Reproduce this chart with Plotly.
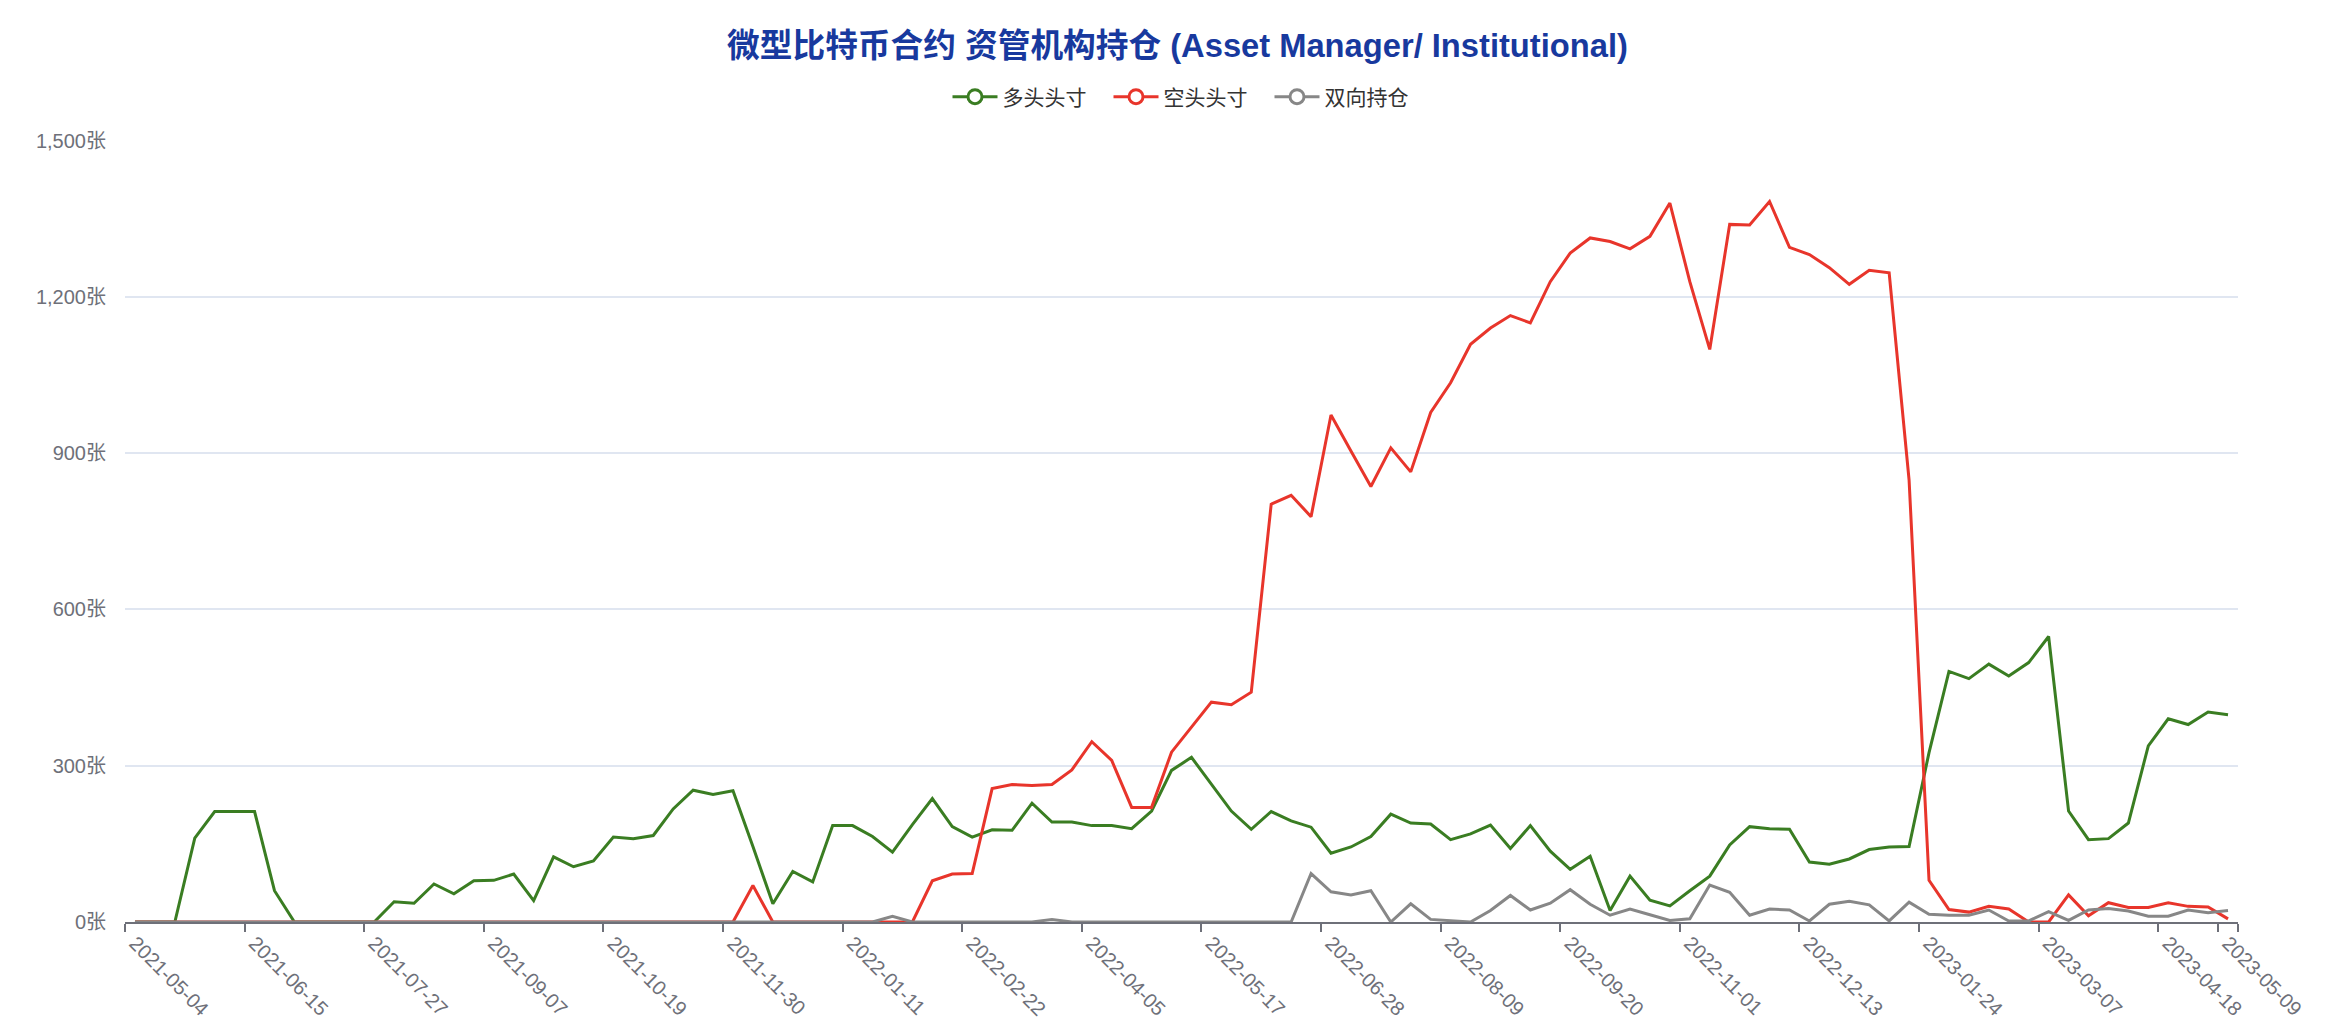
import pandas as pd
import plotly.graph_objects as go

dates = [d.strftime("%Y-%m-%d") for d in pd.date_range("2021-05-04", periods=106, freq="7D")]

long_pos = [0, 0, 0, 161, 212, 212, 212, 60, 0, 0,
            0, 0, 0, 39, 36, 73, 54, 79, 80, 92,
            41, 125, 106, 117, 163, 160, 166, 217, 253, 245,
            252, 145, 35, 97, 77, 185, 185, 164, 134, 187,
            237, 183, 163, 177, 176, 228, 192, 192, 185, 185,
            179, 213, 291, 316, 264, 213, 178, 212, 194, 182,
            132, 144, 164, 207, 190, 188, 158, 169, 186, 141,
            185, 136, 101, 126, 22, 88, 42, 31, 60, 88,
            148, 183, 179, 178, 115, 111, 121, 139, 144, 145,
            325, 481, 467, 495, 472, 498, 548, 213, 158, 160,
            190, 338, 390, 379, 403, 398]

short_pos = [0, 0, 0, 0, 0, 0, 0, 0, 0, 0,
             0, 0, 0, 0, 0, 0, 0, 0, 0, 0,
             0, 0, 0, 0, 0, 0, 0, 0, 0, 0,
             0, 70, 0, 0, 0, 0, 0, 0, 0, 0,
             79, 92, 93, 256, 264, 262, 264, 292, 346, 310,
             220, 220, 326, 374, 422, 417, 441, 802, 819, 778,
             973, 904, 836, 910, 864, 978, 1035, 1109, 1140, 1164,
             1150, 1229, 1284, 1313, 1306, 1292, 1316, 1380, 1229, 1099,
             1339, 1338, 1383, 1295, 1281, 1256, 1224, 1251, 1246, 848,
             80, 24, 19, 30, 25, 0, 0, 52, 12, 37,
             28, 28, 37, 30, 29, 6]

spread_pos = [0, 0, 0, 0, 0, 0, 0, 0, 0, 0,
              0, 0, 0, 0, 0, 0, 0, 0, 0, 0,
              0, 0, 0, 0, 0, 0, 0, 0, 0, 0,
              0, 0, 0, 0, 0, 0, 0, 0, 11, 0,
              0, 0, 0, 0, 0, 0, 5, 0, 0, 0,
              0, 0, 0, 0, 0, 0, 0, 0, 0, 93,
              58, 52, 60, 0, 35, 5, 3, 0, 22, 51,
              23, 36, 62, 34, 13, 25, 14, 3, 6, 71,
              57, 13, 25, 23, 2, 34, 40, 33, 2, 38,
              15, 13, 13, 23, 2, 2, 20, 3, 23, 26,
              21, 11, 11, 23, 18, 22]

tick_labels = ["2021-05-04", "2021-06-15", "2021-07-27", "2021-09-07", "2021-10-19",
               "2021-11-30", "2022-01-11", "2022-02-22", "2022-04-05", "2022-05-17",
               "2022-06-28", "2022-08-09", "2022-09-20", "2022-11-01", "2022-12-13",
               "2023-01-24", "2023-03-07", "2023-04-18", "2023-05-09"]

series_names = ["多头头寸", "空头头寸", "双向持仓"]
series_colors = ["#3a7d22", "#e8352b", "#878787"]
series_values = [long_pos, short_pos, spread_pos]

FONT = "Liberation Sans, Helvetica, Arial, Noto Sans CJK SC, sans-serif"
W, H = 2337, 1027  # page body has an 8px margin

fig = go.Figure()
for name, color, vals in zip(series_names, series_colors, series_values):
    fig.add_trace(go.Scatter(
        x=dates, y=vals, name=name, mode="lines",
        line=dict(color=color, width=3), showlegend=False,
        hovertemplate="%{x}<br>" + name + ": %{y}张<extra></extra>",
    ))
for name, color in zip(series_names, series_colors):
    fig.add_trace(go.Scatter(
        x=[None], y=[None], name=name, mode="lines+markers",
        line=dict(color=color, width=3),
        marker=dict(symbol="circle", size=14, color="white",
                    line=dict(color=color, width=3)),
        showlegend=True,
    ))

fig.update_layout(
    width=W, height=H,
    paper_bgcolor="white", plot_bgcolor="white",
    margin=dict(l=117, r=107, t=122, b=113),
    font=dict(family=FONT, color="#6e7079", size=20),
    title=dict(
        text="微型比特币合约 资管机构持仓 (Asset Manager/ Institutional)",
        font=dict(family=FONT, size=32.7, color="#18399e", weight="bold"),
        x=(1177.5 - 8) / W, xref="container", xanchor="center",
        y=1 - 38 / H, yref="container", yanchor="middle",
    ),
    legend=dict(
        orientation="h", x=(1189 - 8) / W, xref="container", xanchor="center",
        y=1 - 89 / H, yref="container", yanchor="middle",
        font=dict(family=FONT, size=21, color="#333333"),
        itemwidth=45, entrywidth=101, entrywidthmode="pixels",
        bgcolor="rgba(0,0,0,0)",
    ),
    showlegend=True,
)

fig.update_xaxes(
    type="category", range=[-0.5, len(dates) - 0.5],
    tickmode="array", tickvals=tick_labels, ticktext=tick_labels,
    tickangle=45, tickson="boundaries",
    ticks="outside", ticklen=8, tickcolor="#6e7079", tickwidth=1.5,
    showline=True, linecolor="#6e7079", linewidth=1.5,
    showgrid=False, zeroline=False,
    tickfont=dict(size=20, color="#6e7079"),
)
fig.update_yaxes(
    range=[0, 1500], dtick=300, tick0=0, tickformat=",d", ticksuffix="张",
    showgrid=True, gridcolor="#e0e6f1", gridwidth=1.5,
    zeroline=False, showline=False,
    ticks="outside", ticklen=14, tickcolor="rgba(0,0,0,0)",
    tickfont=dict(size=20, color="#6e7079"),
)

fig.write_html("out.html")
